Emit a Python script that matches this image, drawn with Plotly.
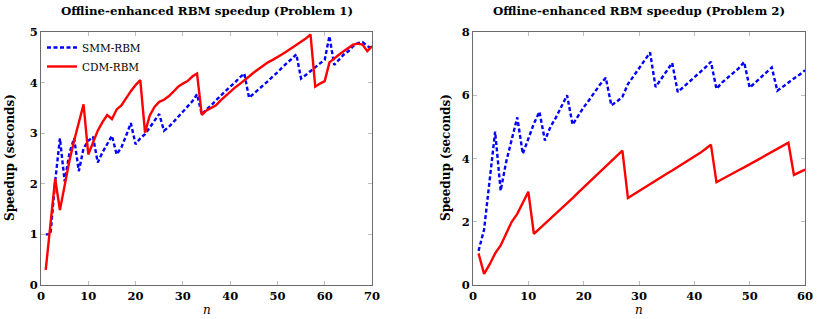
import plotly.graph_objects as go

# ---- Problem 1 data ----
n1 = list(range(1, 71))
smm1 = [1.0, 1.0, 2.05, 2.9, 2.05, 2.6, 2.9, 2.25, 2.7, 2.85,
        2.93, 2.42, 2.62, 2.78, 2.95, 2.58, 2.72, 2.95, 3.2, 2.78,
        2.9, 2.98, 3.12, 3.25, 3.38, 3.05, 3.12, 3.22, 3.32, 3.43,
        3.53, 3.63, 3.77, 3.37, 3.47, 3.55, 3.65, 3.75, 3.83, 3.92,
        4.0, 4.1, 4.18, 3.70, 3.78, 3.86, 3.95, 4.03, 4.12, 4.2,
        4.3, 4.38, 4.47, 4.56, 4.08, 4.15, 4.23, 4.3, 4.38, 4.45,
        4.92, 4.35, 4.45, 4.55, 4.62, 4.72, 4.78, 4.8, 4.72, 4.68]
cdm1 = [0.3, 1.2, 2.1, 1.48, 2.0, 2.45, 2.85, 3.2, 3.57, 2.58,
        2.8, 3.05, 3.22, 3.36, 3.28, 3.47, 3.55, 3.7, 3.83, 3.95,
        4.05, 3.01, 3.35, 3.52, 3.62, 3.66, 3.73, 3.82, 3.92, 3.98,
        4.03, 4.12, 4.18, 3.36, 3.45, 3.5, 3.55, 3.65, 3.74, 3.82,
        3.9, 3.97, 4.04, 4.12, 4.2, 4.27, 4.33, 4.4, 4.45, 4.5,
        4.56, 4.62, 4.68, 4.74, 4.8, 4.87, 4.95, 3.92, 3.98, 4.03,
        4.4, 4.48, 4.55, 4.62, 4.68, 4.75, 4.77, 4.75, 4.62, 4.72]

# ---- Problem 2 data ----
n2 = list(range(1, 61))
smm2 = [1.08, 1.75, 3.3, 4.85, 2.98, 3.9, 4.6, 5.3, 4.15, 4.6,
        5.1, 5.48, 4.57, 5.0, 5.3, 5.65, 6.0, 5.07, 5.35, 5.62,
        5.85, 6.1, 6.35, 6.55, 5.68, 5.8, 5.95, 6.35, 6.6, 6.85,
        7.1, 7.35, 6.26, 6.5, 6.75, 7.02, 6.1, 6.25, 6.4, 6.55,
        6.7, 6.88, 7.06, 6.2, 6.4, 6.55, 6.7, 6.85, 7.05, 6.24,
        6.4, 6.55, 6.7, 6.88, 6.14, 6.28, 6.42, 6.53, 6.65, 6.79]
cdm2 = [1.0, 0.35, 0.65, 1.0, 1.25, 1.6, 2.0, 2.25, 2.6, 2.95,
        1.62, 1.78, 1.93, 2.08, 2.25, 2.42, 2.58, 2.75, 2.92, 3.08,
        3.25, 3.4, 3.58, 3.75, 3.92, 4.08, 4.25, 2.75, 2.86, 2.97,
        3.08, 3.2, 3.32, 3.43, 3.52, 3.62, 3.72, 3.84, 3.95, 4.05,
        4.17, 4.3, 4.44, 3.25, 3.35, 3.45, 3.54, 3.63, 3.72, 3.82,
        3.92, 4.0, 4.1, 4.2, 4.3, 4.4, 4.5, 3.48, 3.56, 3.65]

titles = ["Offline-enhanced RBM speedup (Problem 1)",
          "Offline-enhanced RBM speedup (Problem 2)"]
series_names = ["SMM-RBM", "CDM-RBM"]

W, H = 818, 319
FONT = "DejaVu Serif"
BLUE = "#0000FF"
RED = "#FF0000"

fig = go.Figure()

fig.add_trace(go.Scatter(x=n1, y=smm1, mode="lines", name=series_names[0],
                         line=dict(color=BLUE, width=2.4, dash="4px,2.5px"),
                         xaxis="x", yaxis="y"))
fig.add_trace(go.Scatter(x=n1, y=cdm1, mode="lines", name=series_names[1],
                         line=dict(color=RED, width=2.4),
                         xaxis="x", yaxis="y"))
fig.add_trace(go.Scatter(x=n2, y=smm2, mode="lines", name=series_names[0],
                         line=dict(color=BLUE, width=2.4, dash="4px,2.5px"),
                         xaxis="x2", yaxis="y2", showlegend=False))
fig.add_trace(go.Scatter(x=n2, y=cdm2, mode="lines", name=series_names[1],
                         line=dict(color=RED, width=2.4),
                         xaxis="x2", yaxis="y2", showlegend=False))

# pixel geometry
def px_x(p):
    return p / W

def px_y(p):
    return 1 - p / H

ydom = [px_y(285), px_y(32)]
axis_common = dict(showgrid=False, zeroline=False, showline=True, linecolor="#6b6b6b",
                   linewidth=1, mirror="allticks", ticks="inside", ticklen=4,
                   tickcolor="#bdbdbd", tickwidth=1, automargin=False,
                   tickfont=dict(family=FONT, size=11.5, color="black", weight="bold"))

fig.update_layout(
    width=W, height=H,
    margin=dict(l=0, r=0, t=0, b=0, autoexpand=False),
    paper_bgcolor="white", plot_bgcolor="white",
    xaxis=dict(domain=[px_x(41), px_x(372)], range=[0, 70], dtick=10, tick0=0,
               anchor="y", **axis_common),
    yaxis=dict(domain=ydom, range=[0, 5], dtick=1, tick0=0, anchor="x", **axis_common),
    xaxis2=dict(domain=[px_x(473), px_x(805)], range=[0, 60], dtick=10, tick0=0,
                anchor="y2", **axis_common),
    yaxis2=dict(domain=ydom, range=[0, 8], dtick=2, tick0=0, anchor="x2", **axis_common),
    showlegend=True,
    legend=dict(x=px_x(42), y=px_y(33), xanchor="left", yanchor="top",
                bgcolor="rgba(255,255,255,0)", borderwidth=0,
                font=dict(family=FONT, size=10.5, color="black"),
                tracegroupgap=0, itemwidth=30),
)

annots = []
for title, cx in [(titles[0], (41 + 372) / 2), (titles[1], (473 + 805) / 2)]:
    annots.append(dict(text="<b>" + title + "</b>", x=px_x(cx), y=px_y(11),
                       xref="paper", yref="paper", xanchor="center", yanchor="middle",
                       showarrow=False, font=dict(family=FONT, size=11.8, color="black")))
for cx in [(41 + 372) / 2, (473 + 805) / 2]:
    annots.append(dict(text="<i>n</i>", x=px_x(cx), y=px_y(310),
                       xref="paper", yref="paper", xanchor="center", yanchor="middle",
                       showarrow=False, font=dict(family=FONT, size=12, color="black")))
for cx in [10, 446]:
    annots.append(dict(text="<b>Speedup (seconds)</b>", x=px_x(cx), y=px_y(158),
                       xref="paper", yref="paper", xanchor="center", yanchor="middle",
                       textangle=-90, showarrow=False,
                       font=dict(family=FONT, size=12, color="black")))
fig.update_layout(annotations=annots)

fig.write_html("out.html",
               config={"displayModeBar": False},
               post_script="document.body.style.margin='0';document.body.style.overflow='hidden';")
